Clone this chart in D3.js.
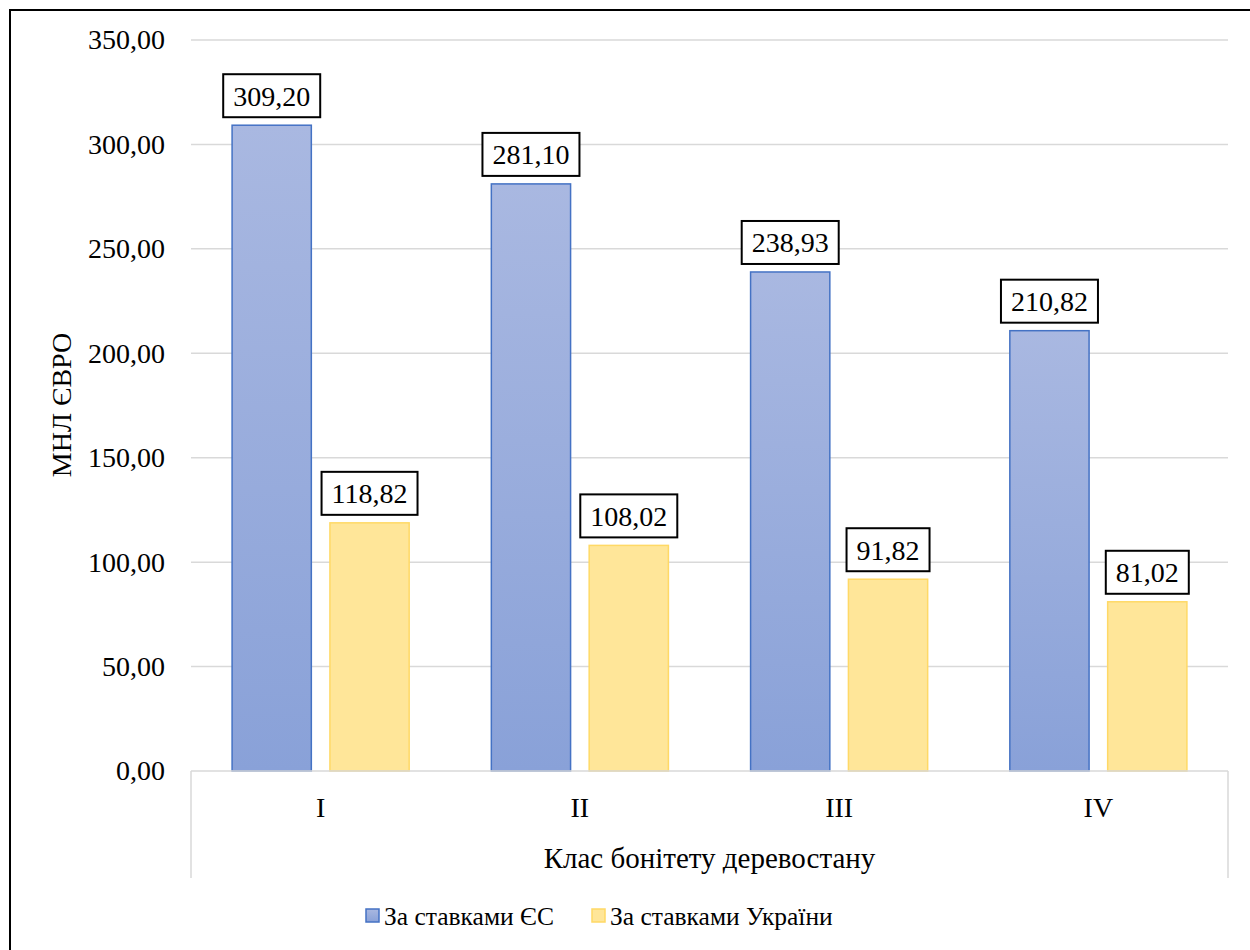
<!DOCTYPE html>
<html>
<head>
<meta charset="utf-8">
<script src="https://cdn.jsdelivr.net/npm/d3@7"></script>
<style>
  html, body { margin: 0; padding: 0; background: #fff; }
  svg text { font-family: 'Liberation Serif', 'Times New Roman', Times, 'DejaVu Serif', serif !important; }
</style>
</head>
<body>
<svg id="chart" width="1250" height="950"></svg>
<script>
// Forest-quality classes and valuation in million euro
const categories = ["I", "II", "III", "IV"];
const seriesNames = ["За ставками ЄС", "За ставками України"];
const euRates = [309.20, 281.10, 238.93, 210.82];
const uaRates = [118.82, 108.02, 91.82, 81.02];
const yTicks = [0, 50, 100, 150, 200, 250, 300, 350];
const yTitle = "МНЛ ЄВРО";
const xTitle = "Клас бонітету деревостану";

const fmt = v => v.toFixed(2).replace(".", ",");

const svg = d3.select("#chart");

// outer frame
svg.append("rect")
  .attr("x", 10).attr("y", 10).attr("width", 1300).attr("height", 1000)
  .attr("fill", "none").attr("stroke", "#000").attr("stroke-width", 2);

const plot = { left: 191, right: 1228, top: 40, bottom: 771 };

const y = d3.scaleLinear().domain([0, 350]).range([plot.bottom, plot.top]);
const x0 = d3.scaleBand().domain(categories).range([plot.left, plot.right]).paddingInner(0).paddingOuter(0);
const bw = x0.bandwidth();
const x1 = d3.scaleBand().domain(seriesNames)
  .range([0, bw]).paddingInner(0.19).paddingOuter(0.42);

// gradient for the EU bars
const defs = svg.append("defs");
const g1 = defs.append("linearGradient").attr("id", "gradEU")
  .attr("x1", 0).attr("y1", 0).attr("x2", 0).attr("y2", 1);
g1.append("stop").attr("offset", "0%").attr("stop-color", "#a9b8e1");
g1.append("stop").attr("offset", "100%").attr("stop-color", "#89a1d8");

// gridlines
svg.append("g").selectAll("line").data(yTicks.filter(t => t > 0)).join("line")
  .attr("x1", plot.left).attr("x2", plot.right)
  .attr("y1", d => y(d)).attr("y2", d => y(d))
  .attr("stroke", "#d9d9d9").attr("stroke-width", 1.5);

// y axis labels
const yAxis = d3.axisLeft(y).tickValues(yTicks).tickFormat(fmt).tickSize(0).tickPadding(0);
const ya = svg.append("g").attr("transform", `translate(165,0)`).call(yAxis);
ya.attr("font-family", null);
ya.select(".domain").remove();
ya.selectAll("text").attr("font-size", 28).attr("fill", "#000");

// y title
svg.append("text")
  .attr("transform", `translate(71,405) rotate(-90)`)
  .attr("text-anchor", "middle")
  .attr("font-size", 28).attr("fill", "#000")
  .text(yTitle);

// bars
const series = [
  { name: seriesNames[0], values: euRates, fill: "url(#gradEU)", stroke: "#4472c4" },
  { name: seriesNames[1], values: uaRates, fill: "#ffe699", stroke: "#ffd966" }
];

const groups = svg.append("g");
series.forEach(s => {
  const bars = groups.append("g");
  categories.forEach((c, i) => {
    const v = s.values[i];
    const bx = x0(c) + x1(s.name);
    const by = y(v);
    bars.append("rect")
      .attr("x", bx).attr("y", by)
      .attr("width", x1.bandwidth()).attr("height", y(0) - by)
      .attr("fill", s.fill).attr("stroke", s.stroke).attr("stroke-width", 1.5);
  });
});

// category axis baseline and outer separators
svg.append("line")
  .attr("x1", plot.left).attr("x2", plot.right)
  .attr("y1", plot.bottom).attr("y2", plot.bottom)
  .attr("stroke", "#d9d9d9").attr("stroke-width", 1.5);
[plot.left, plot.right].forEach(xx => {
  svg.append("line").attr("x1", xx).attr("x2", xx)
    .attr("y1", plot.bottom).attr("y2", 878)
    .attr("stroke", "#d9d9d9").attr("stroke-width", 1.5);
});

// category labels
const xAxis = d3.axisBottom(x0).tickSize(0).tickPadding(0);
const xa = svg.append("g").attr("transform", `translate(0,${plot.bottom})`).call(xAxis);
xa.attr("font-family", null);
xa.select(".domain").remove();
xa.selectAll("text").attr("font-size", 28).attr("fill", "#000")
  .attr("y", 0).attr("dy", 0).attr("transform", "translate(0,46)");

// x title
svg.append("text")
  .attr("x", (plot.left + plot.right) / 2).attr("y", 868)
  .attr("text-anchor", "middle").attr("font-size", 29).attr("fill", "#000")
  .text(xTitle);

// value labels in boxes
const labels = svg.append("g");
series.forEach(s => {
  categories.forEach((c, i) => {
    const v = s.values[i];
    const cx = x0(c) + x1(s.name) + x1.bandwidth() / 2;
    const boxBottom = y(v) - 8;
    const boxH = 43;
    const g = labels.append("g");
    const rect = g.append("rect");
    const t = g.append("text")
      .attr("x", cx).attr("y", boxBottom - boxH / 2 + 10)
      .attr("text-anchor", "middle").attr("font-size", 28).attr("fill", "#000")
      .text(fmt(v));
    const w = t.node().getComputedTextLength() + 20;
    rect.attr("x", cx - w / 2).attr("y", boxBottom - boxH)
      .attr("width", w).attr("height", boxH)
      .attr("fill", "#fff").attr("stroke", "#000").attr("stroke-width", 2);
  });
});

// legend
const legend = svg.append("g");
const legendItems = [
  { name: seriesNames[0], fill: "url(#gradEU)", stroke: "#4472c4", x: 366 },
  { name: seriesNames[1], fill: "#ffe699", stroke: "#ffd966", x: 592 }
];
legendItems.forEach(it => {
  legend.append("rect")
    .attr("x", it.x).attr("y", 909).attr("width", 13).attr("height", 13)
    .attr("fill", it.fill).attr("stroke", it.stroke).attr("stroke-width", 1.5);
  legend.append("text")
    .attr("x", it.x + 18).attr("y", 925)
    .attr("font-size", 25.5).attr("fill", "#000")
    .text(it.name);
});
</script>
</body>
</html>
